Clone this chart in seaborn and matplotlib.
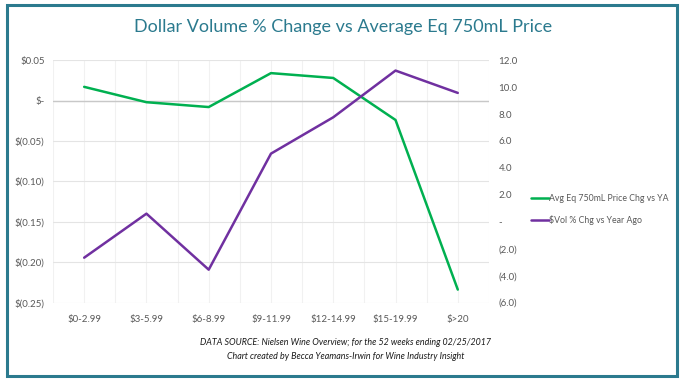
import pandas as pd
import matplotlib.pyplot as plt
import seaborn as sns
from matplotlib.patches import Rectangle
from matplotlib.ticker import FuncFormatter, MultipleLocator

# Data
price_bands = ['$0-2.99', '$3-5.99', '$6-8.99', '$9-11.99', '$12-14.99', '$15-19.99', '$>20']
price_chg = [0.017, -0.002, -0.008, 0.034, 0.028, -0.024, -0.234]
vol_chg = [-2.67, 0.60, -3.56, 5.06, 7.76, 11.23, 9.57]

GREEN = '#00b050'
PURPLE = '#7030a0'
TEAL = '#2b7a8e'
TICK = '#595959'


def money_fmt(v, pos):
    if abs(v) < 1e-9:
        return '$-'
    if v < 0:
        return f'$({abs(v):.2f})'
    return f'${v:.2f}'


def pct_fmt(v, pos):
    if abs(v) < 1e-9:
        return '-'
    if v < 0:
        return f'({abs(v):.1f})'
    return f'{v:.1f}'


def main():
    sns.set_style('white')
    plt.rcParams['font.family'] = ['Lato', 'DejaVu Sans']

    df = pd.DataFrame({'band': price_bands, 'x': range(len(price_bands)),
                       'price': price_chg, 'vol': vol_chg})

    fig = plt.figure(figsize=(6.8, 3.81), dpi=100)
    ax = fig.add_axes([0.078, 0.206, 0.641, 0.636])
    ax2 = ax.twinx()

    sns.lineplot(data=df, x='x', y='price', ax=ax, color=GREEN, linewidth=1.8,
                 label='Avg Eq 750mL Price Chg vs YA', legend=False)
    sns.lineplot(data=df, x='x', y='vol', ax=ax2, color=PURPLE, linewidth=1.8,
                 label='$Vol % Chg vs Year Ago', legend=False)

    ax.set_xlim(-0.5, len(price_bands) - 0.5)
    ax.set_ylim(-0.25, 0.05)
    ax2.set_ylim(-6, 12)
    ax.set_xticks(range(len(price_bands)))
    ax.set_xticklabels(price_bands)
    ax.xaxis.set_minor_locator(MultipleLocator(0.5))
    ax.yaxis.set_major_locator(MultipleLocator(0.05))
    ax2.yaxis.set_major_locator(MultipleLocator(2))
    ax.yaxis.set_major_formatter(FuncFormatter(money_fmt))
    ax2.yaxis.set_major_formatter(FuncFormatter(pct_fmt))

    ax.grid(True, axis='y', color='#e4e4e4', linewidth=0.8)
    ax.grid(True, axis='x', which='both', color='#f1f1f1', linewidth=0.8)
    ax.axhline(0, color='#c8c8c8', linewidth=1.0, zorder=1)
    ax.set_axisbelow(True)
    for a in (ax, ax2):
        for s in a.spines.values():
            s.set_visible(False)
        a.set_xlabel('')
        a.set_ylabel('')
    ax.tick_params(axis='both', which='both', length=0, labelsize=7, labelcolor=TICK)
    ax.tick_params(axis='x', pad=9)
    ax.tick_params(axis='y', pad=6)
    ax2.tick_params(axis='y', length=0, labelsize=7, labelcolor=TICK, pad=7)

    h1, l1 = ax.get_legend_handles_labels()
    h2, l2 = ax2.get_legend_handles_labels()
    fig.legend(h1 + h2, l1 + l2, loc='center left', bbox_to_anchor=(0.77, 0.45),
               frameon=False, fontsize=6.3, handlelength=2.0, handletextpad=0.05,
               labelspacing=1.3, labelcolor=TICK)

    fig.text(0.505, 0.928, 'Dollar Volume % Change vs Average Eq 750mL Price',
             ha='center', va='center', fontsize=13, color=TEAL)
    fig.text(0.508, 0.10, 'DATA SOURCE: Nielsen Wine Overview; for the 52 weeks ending 02/25/2017',
             ha='center', va='center', fontsize=6.4, style='italic', color='#1a1a1a')
    fig.text(0.508, 0.065, 'Chart created by Becca Yeamans-Irwin for Wine Industry Insight',
             ha='center', va='center', fontsize=6.4, style='italic', color='#1a1a1a')

    fig.patches.append(Rectangle((0.011, 0.012), 0.984, 0.975, transform=fig.transFigure,
                                 fill=False, edgecolor=TEAL, linewidth=2.2))

    fig.savefig('out.png', dpi=100)
    plt.close(fig)


if __name__ == '__main__':
    main()
